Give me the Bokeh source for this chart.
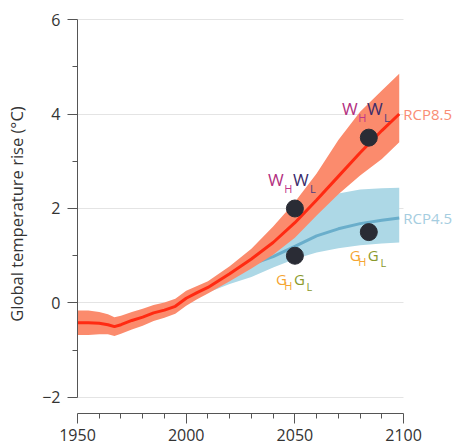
from bokeh.plotting import figure
from bokeh.models import FixedTicker, Range1d
from bokeh.core.properties import value
from bokeh.embed import file_html
from bokeh.resources import INLINE

# ---------------- data ----------------
hist_years = [1950, 1955, 1960, 1964, 1967, 1970, 1975, 1980, 1985, 1990, 1995, 2000]
hist_mean = [-0.42, -0.42, -0.43, -0.46, -0.50, -0.46, -0.37, -0.30, -0.21, -0.15, -0.07, 0.10]
hist_low = [-0.68, -0.68, -0.66, -0.66, -0.70, -0.65, -0.56, -0.48, -0.38, -0.31, -0.23, -0.06]
hist_high = [-0.16, -0.16, -0.19, -0.24, -0.30, -0.27, -0.19, -0.12, -0.04, 0.01, 0.09, 0.26]

proj_years = [2005, 2010, 2020, 2030, 2040, 2050, 2060, 2070, 2080, 2090, 2098]
rcp85_mean = [0.22, 0.33, 0.62, 0.93, 1.28, 1.70, 2.18, 2.68, 3.18, 3.65, 4.00]
rcp85_low = [0.08, 0.20, 0.46, 0.73, 1.02, 1.38, 1.85, 2.30, 2.70, 3.05, 3.40]
rcp85_high = [0.36, 0.46, 0.78, 1.15, 1.62, 2.14, 2.74, 3.45, 4.05, 4.50, 4.85]
rcp45_mean = [0.22, 0.32, 0.58, 0.82, 0.98, 1.20, 1.42, 1.57, 1.68, 1.75, 1.80]
rcp45_low = [0.10, 0.22, 0.40, 0.55, 0.75, 0.93, 1.07, 1.16, 1.22, 1.26, 1.28]
rcp45_high = [0.34, 0.42, 0.72, 1.08, 1.50, 1.88, 2.15, 2.32, 2.40, 2.43, 2.44]

dot_years = [2050, 2084]
w_dots = [2.0, 3.5]
g_dots = [1.0, 1.5]

scenario_names = ["RCP8.5", "RCP4.5"]
x_ticks = [1950, 2000, 2050, 2100]
x_minor_ticks = [1960, 1970, 1980, 1990, 2010, 2020, 2030, 2040, 2060, 2070, 2080, 2090]
y_ticks = [-2, 0, 2, 4, 6]
y_minor_ticks = [-1, 1, 3, 5]
y_label = "Global temperature rise (°C)"

# ---------------- styling ----------------
FONT = "Open Sans"
RED_LINE = "#ff2a12"
RED_BAND = "#fb8b6d"
BLUE_LINE = "#6aaecb"
BLUE_BAND = "#add8e6"
DOT = "#2a2c35"
AXIS = "#555555"
TEXT = "#333333"

p = figure(width=452, height=446, output_backend="svg", toolbar_location=None,
           x_range=Range1d(1950, 2122.5), y_range=Range1d(-2.339, 6.106),
           min_border_left=77, min_border_right=0, min_border_top=14,
           min_border_bottom=33)
p.outline_line_color = None
p.background_fill_color = "white"
p.border_fill_color = "white"

# axes
p.xaxis.ticker = FixedTicker(ticks=x_ticks, minor_ticks=x_minor_ticks)
p.yaxis.ticker = FixedTicker(ticks=y_ticks, minor_ticks=y_minor_ticks)
p.xaxis.bounds = (x_ticks[0], x_ticks[-1])
p.yaxis.bounds = (y_ticks[0], y_ticks[-1])
for ax in (p.xaxis[0], p.yaxis[0]):
    ax.axis_line_color = AXIS
    ax.major_tick_line_color = AXIS
    ax.minor_tick_line_color = AXIS
    ax.major_tick_in = 0
    ax.major_tick_out = 10
    ax.minor_tick_in = 0
    ax.minor_tick_out = 5
    ax.major_label_text_font = FONT
    ax.major_label_text_font_size = "16px"
    ax.major_label_text_color = TEXT
p.yaxis.major_label_standoff = 7
p.xaxis.major_label_standoff = 5
p.yaxis.axis_label = y_label
p.yaxis.axis_label_text_font = FONT
p.yaxis.axis_label_text_font_size = "16.5px"
p.yaxis.axis_label_text_font_style = "normal"
p.yaxis.axis_label_text_color = TEXT
p.yaxis.axis_label_standoff = 11

p.xgrid.grid_line_color = None
p.ygrid.grid_line_color = "#e4e4e4"
p.ygrid.grid_line_width = 1
p.ygrid.cross_bounds = (x_ticks[0], x_ticks[-1])

# bands and lines
p.varea(x=proj_years, y1=rcp45_low, y2=rcp45_high, fill_color=BLUE_BAND)
p.line(x=proj_years, y=rcp45_mean, line_color=BLUE_LINE, line_width=3)

red_years = hist_years + proj_years
red_low = hist_low + rcp85_low
red_high = hist_high + rcp85_high
red_mean = hist_mean + rcp85_mean
p.varea(x=red_years, y1=red_low, y2=red_high, fill_color=RED_BAND)
p.line(x=red_years, y=red_mean, line_color=RED_LINE, line_width=3)

# dots
p.scatter(x=dot_years, y=w_dots, size=17, fill_color=DOT, line_color=DOT)
p.scatter(x=dot_years, y=g_dots, size=17, fill_color=DOT, line_color=DOT)


def letters(ys, txt, dx, dy, color, size):
    p.text(x=dot_years, y=ys, text=[txt] * len(dot_years), x_offset=dx, y_offset=dy,
           text_color=color, text_font=value(FONT), text_font_size=size,
           text_align="center", text_baseline="middle")


# W_H W_L labels above the warm dots, G_H G_L below the other dots
letters(w_dots, "W", -19, -29, "#b3307f", "17px")
letters(w_dots, "H", -6.5, -20, "#c0378a", "11px")
letters(w_dots, "W", 6, -29, "#3b2c6b", "17px")
letters(w_dots, "L", 18, -20, "#4a3c80", "11px")

letters(g_dots, "G", -13.5, 23, "#f5a533", "15px")
letters(g_dots, "H", -6.5, 29.5, "#f5a533", "11px")
letters(g_dots, "G", 4.5, 23, "#8a992c", "15px")
letters(g_dots, "L", 14.5, 30.5, "#8a992c", "11px")

# scenario labels at the end of each projection line
p.text(x=[proj_years[-1]], y=[rcp85_mean[-1]], text=[scenario_names[0]], x_offset=4,
       text_color="#f98d74", text_font=value(FONT), text_font_size="15px",
       text_align="left", text_baseline="middle")
p.text(x=[proj_years[-1]], y=[rcp45_mean[-1]], text=[scenario_names[1]], x_offset=4,
       text_color="#a5cde0", text_font=value(FONT), text_font_size="15px",
       text_align="left", text_baseline="middle")

open("out.html", "w").write(file_html(p, INLINE))
